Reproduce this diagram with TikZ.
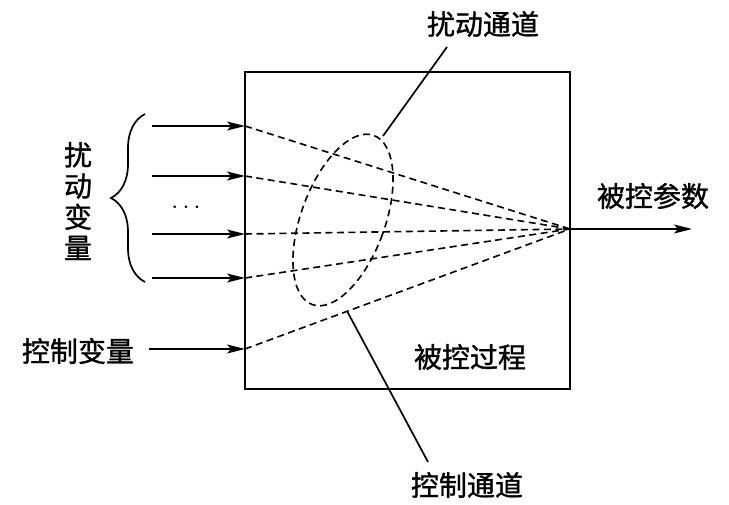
\documentclass[tikz,border=0pt]{standalone}
\usepackage{fontspec}
\newfontfamily\cjk{Noto Sans CJK SC}[FakeBold=1.2]
\usetikzlibrary{arrows.meta,decorations.pathreplacing}
\begin{document}
\begin{tikzpicture}[x=1pt,y=-1pt,line width=1.7pt,
    lbl/.style={font=\cjk\fontsize{28}{31}\selectfont,inner sep=0pt},
    feed/.style={-{Stealth[length=18pt,width=9pt,inset=4pt]}},
    chan/.style={dash pattern=on 7pt off 4.5pt,line width=1.6pt}]
  \useasboundingbox (0,0) rectangle (729,505);
  % process box
  \draw[line width=2pt] (245,72) rectangle (570,389);
  \node[lbl] (proc) at (470,357) {被控过程};
  \coordinate (out) at (570,229);
  \coordinate (end) at (692,229);
  % disturbance inputs
  \coordinate (s1) at (152,126); \coordinate (d1) at (245,126);
  \coordinate (s2) at (152,176); \coordinate (d2) at (245,176);
  \coordinate (s3) at (152,234); \coordinate (d3) at (245,234);
  \coordinate (s4) at (152,278); \coordinate (d4) at (245,278);
  \foreach \i in {1,...,4} {
    \draw[feed] (s\i) -- (d\i);
    \draw[chan] (d\i) -- (out);
  }
  \node[font=\fontsize{34}{34}\selectfont] (dots) at (186,208) {$\cdots$};
  \draw[decorate,decoration={brace,amplitude=34pt,aspect=0.5}] (145,282) -- (145,114);
  \node[lbl,align=center] (dist) at (78,201) {扰\\动\\变\\量};
  % control input
  \node[lbl] (ctrl) at (78,351) {控制变量};
  \coordinate (d5) at (245,349);
  \draw[feed] (ctrl.east) ++(14,-2) coordinate (s5) (s5) -- (d5);
  \draw[chan] (d5) -- (out);
  % output
  \draw[feed] (out) -- (end);
  \node[lbl] (param) at (653,196) {被控参数};
  % disturbance channel
  \coordinate (ec) at (343,220);
  \draw[chan,rotate around={-20:(ec)}] (ec) ellipse (42 and 90);
  \coordinate (e1) at (383,136);
  \coordinate (e2) at (447,47);
  \draw (e1) -- (e2);
  \node[lbl] (dch) at (483,24) {扰动通道};
  % control channel
  \coordinate (c1) at (347,311);
  \coordinate (c2) at (428,462);
  \draw (c1) -- (c2);
  \node[lbl] (cch) at (467,485) {控制通道};
\end{tikzpicture}
\end{document}
